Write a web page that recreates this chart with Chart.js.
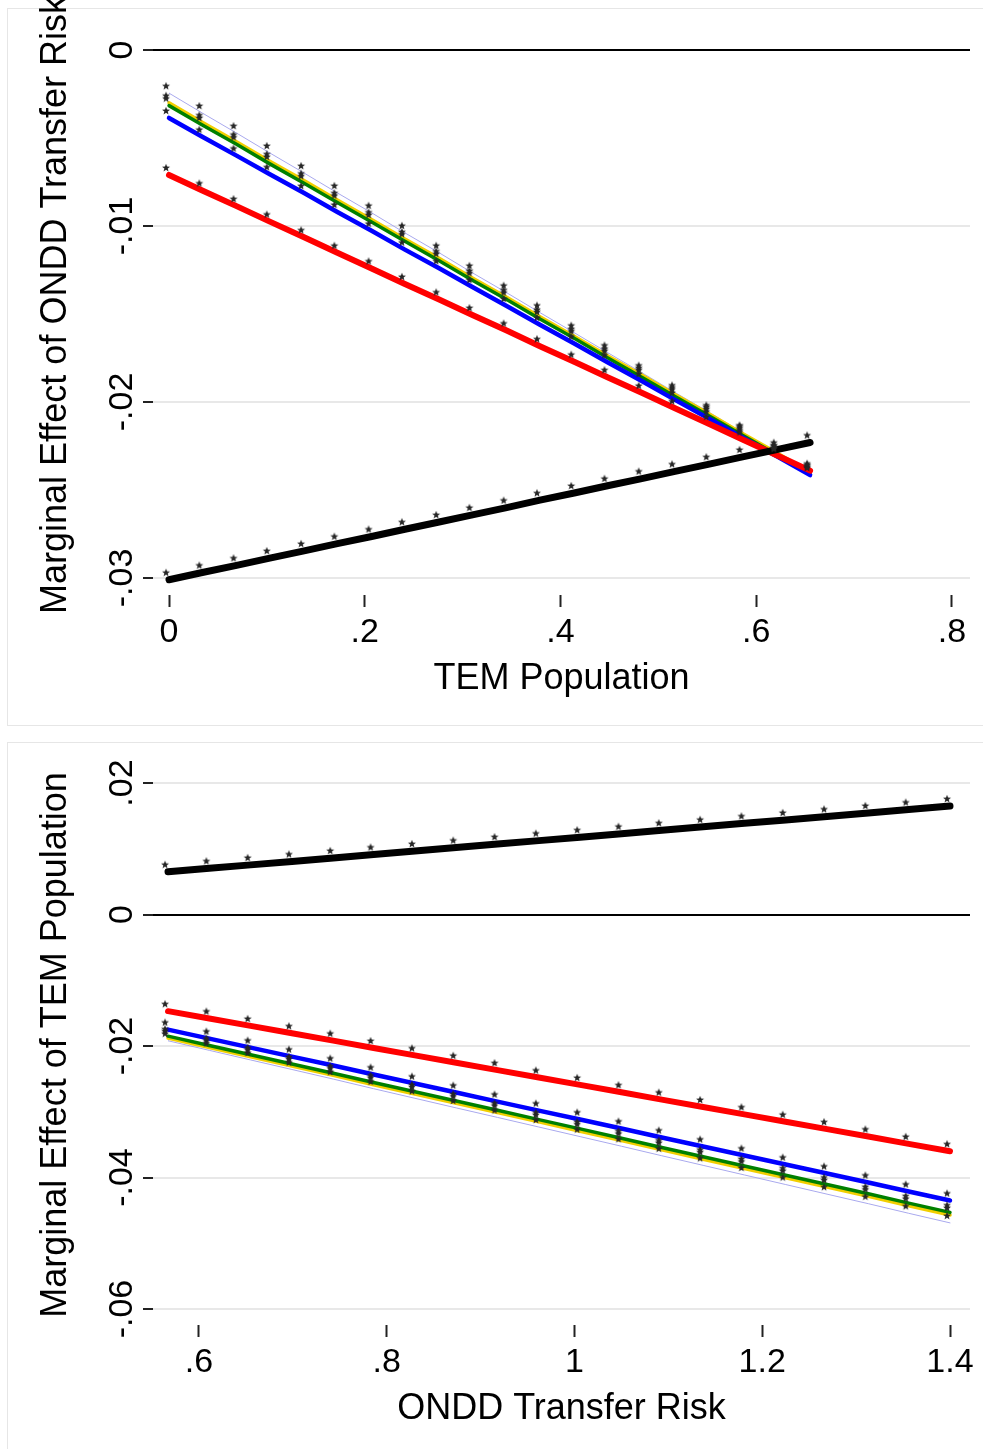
<!DOCTYPE html>
<html>
<head>
<meta charset="utf-8">
<script src="https://cdn.jsdelivr.net/npm/chart.js@4/dist/chart.umd.min.js"></script>
<style>
  html, body { margin: 0; padding: 0; background: #fff; }
  body { width: 983px; height: 1449px; position: relative; overflow: hidden; }
  .panel { position: absolute; border: 1px solid #e6e6e6; box-sizing: border-box; }
  canvas { position: absolute; left: 0; }
</style>
</head>
<body>
<div class="panel" style="left:7px; top:8px; width:990px; height:718px;"></div>
<div class="panel" style="left:7px; top:742px; width:990px; height:720px;"></div>
<canvas id="top-chart" width="983" height="725" style="top:0"></canvas>
<canvas id="bottom-chart" width="983" height="707" style="top:742px"></canvas>
<script>
// ---- top panel: effect of ONDD transfer risk over TEM population ----
const topX = [0, 0.034, 0.069, 0.103, 0.138, 0.172, 0.207, 0.241, 0.276, 0.310,
  0.345, 0.379, 0.414, 0.448, 0.483, 0.517, 0.552, 0.586, 0.621, 0.655];
const topBlack = [-0.03010, -0.02969, -0.02928, -0.02887, -0.02846, -0.02805, -0.02764, -0.02723, -0.02682, -0.02641,
  -0.02600, -0.02558, -0.02517, -0.02476, -0.02435, -0.02394, -0.02353, -0.02312, -0.02271, -0.02230];
const topRed = [-0.00710, -0.00798, -0.00887, -0.00975, -0.01064, -0.01152, -0.01241, -0.01329, -0.01417, -0.01506,
  -0.01594, -0.01683, -0.01771, -0.01859, -0.01948, -0.02036, -0.02125, -0.02213, -0.02302, -0.02390];
const topBlue = [-0.00386, -0.00493, -0.00600, -0.00706, -0.00813, -0.00920, -0.01027, -0.01134, -0.01240, -0.01347,
  -0.01454, -0.01561, -0.01668, -0.01774, -0.01881, -0.01988, -0.02095, -0.02202, -0.02308, -0.02415];
const topGreen = [-0.00316, -0.00426, -0.00536, -0.00647, -0.00757, -0.00867, -0.00977, -0.01087, -0.01198, -0.01308,
  -0.01418, -0.01528, -0.01638, -0.01749, -0.01859, -0.01969, -0.02079, -0.02189, -0.02300, -0.02410];
const topYellow = [-0.00300, -0.00411, -0.00521, -0.00632, -0.00742, -0.00853, -0.00963, -0.01074, -0.01184, -0.01295,
  -0.01405, -0.01516, -0.01626, -0.01737, -0.01847, -0.01958, -0.02068, -0.02179, -0.02289, -0.02400];
const topLavender = [-0.00245, -0.00358, -0.00472, -0.00585, -0.00699, -0.00812, -0.00925, -0.01039, -0.01152, -0.01266,
  -0.01379, -0.01492, -0.01606, -0.01719, -0.01833, -0.01946, -0.02059, -0.02173, -0.02286, -0.02400];
const topYTicks = [0, -0.01, -0.02, -0.03];
const topYLabels = ['0', '-.01', '-.02', '-.03'];
const topXTicks = [0, 0.2, 0.4, 0.6, 0.8];
const topXLabels = ['0', '.2', '.4', '.6', '.8'];

// ---- bottom panel: effect of TEM population over ONDD transfer risk ----
const botX = [0.567, 0.611, 0.655, 0.699, 0.743, 0.786, 0.830, 0.874, 0.918, 0.962,
  1.006, 1.050, 1.093, 1.137, 1.181, 1.225, 1.269, 1.313, 1.356, 1.400];
const botBlack = [0.00650, 0.00703, 0.00755, 0.00808, 0.00861, 0.00913, 0.00966, 0.01018, 0.01071, 0.01124,
  0.01176, 0.01229, 0.01282, 0.01334, 0.01387, 0.01439, 0.01492, 0.01545, 0.01597, 0.01650];
const botRed = [-0.01470, -0.01582, -0.01694, -0.01806, -0.01918, -0.02031, -0.02143, -0.02255, -0.02367, -0.02479,
  -0.02591, -0.02703, -0.02815, -0.02927, -0.03039, -0.03152, -0.03264, -0.03376, -0.03488, -0.03600];
const botBlue = [-0.01750, -0.01887, -0.02024, -0.02161, -0.02297, -0.02434, -0.02571, -0.02708, -0.02845, -0.02982,
  -0.03118, -0.03255, -0.03392, -0.03529, -0.03666, -0.03803, -0.03939, -0.04076, -0.04213, -0.04350];
const botGreen = [-0.01850, -0.01991, -0.02132, -0.02273, -0.02414, -0.02555, -0.02696, -0.02837, -0.02978, -0.03119,
  -0.03260, -0.03402, -0.03543, -0.03684, -0.03825, -0.03966, -0.04107, -0.04248, -0.04389, -0.04530];
const botYellow = [-0.01880, -0.02022, -0.02163, -0.02305, -0.02446, -0.02588, -0.02730, -0.02871, -0.03013, -0.03154,
  -0.03296, -0.03438, -0.03579, -0.03721, -0.03862, -0.04004, -0.04146, -0.04287, -0.04429, -0.04570];
const botLavender = [-0.01920, -0.02066, -0.02212, -0.02357, -0.02503, -0.02649, -0.02795, -0.02941, -0.03086, -0.03232,
  -0.03378, -0.03524, -0.03669, -0.03815, -0.03961, -0.04107, -0.04253, -0.04398, -0.04544, -0.04690];
const botYTicks = [0.02, 0, -0.02, -0.04, -0.06];
const botYLabels = ['.02', '0', '-.02', '-.04', '-.06'];
const botXTicks = [0.6, 0.8, 1, 1.2, 1.4];
const botXLabels = ['.6', '.8', '1', '1.2', '1.4'];

const FONT = '"Liberation Sans", Arial, Helvetica, sans-serif';

// line look, drawn bottom to top: lavender, yellow, green, blue, red, black
const styles = {
  black:    { color: '#000000', width: 7,   order: 1 },
  red:      { color: '#ff0000', width: 6,   order: 2 },
  blue:     { color: '#0000ff', width: 4.5, order: 3 },
  green:    { color: '#008000', width: 3.5, order: 4 },
  yellow:   { color: '#f2cf00', width: 3.5, order: 5 },
  lavender: { color: '#a9a9ee', width: 1,   order: 6 }
};

// small star sprite, drawn up and left of its point like the Stata marker label
function makeStar() {
  const c = document.createElement('canvas');
  c.width = 26; c.height = 26;
  const g = c.getContext('2d');
  const cx = 13 - 3, cy = 13 - 7, ro = 4.2, ri = 1.8;
  g.beginPath();
  for (let i = 0; i < 10; i++) {
    const r = i % 2 ? ri : ro;
    const a = -Math.PI / 2 + i * Math.PI / 5;
    g.lineTo(cx + r * Math.cos(a), cy + r * Math.sin(a));
  }
  g.closePath();
  g.fillStyle = '#262626';
  g.fill();
  return c;
}
const star = makeStar();

function textPlugin(t) {
  return {
    id: 'stataText',
    afterDraw(chart) {
      const { ctx, chartArea, scales } = chart;
      ctx.save();
      ctx.fillStyle = '#000';
      ctx.textBaseline = 'alphabetic';
      ctx.textAlign = 'center';
      ctx.font = '34px ' + FONT;
      t.yTicks.forEach((v, i) => {
        ctx.save();
        ctx.translate(132, scales.y.getPixelForValue(v));
        ctx.rotate(-Math.PI / 2);
        ctx.fillText(t.yLabels[i], 0, 0);
        ctx.restore();
      });
      t.xTicks.forEach((v, i) => {
        ctx.fillText(t.xLabels[i], scales.x.getPixelForValue(v), chartArea.bottom + 47);
      });
      ctx.font = '36px ' + FONT;
      ctx.fillText(t.xTitle, (chartArea.left + chartArea.right) / 2, chartArea.bottom + 94);
      ctx.save();
      ctx.translate(66, (chartArea.top + chartArea.bottom) / 2);
      ctx.rotate(-Math.PI / 2);
      ctx.fillText(t.yTitle, 0, 0);
      ctx.restore();
      ctx.restore();
    }
  };
}

function makeChart(id, p) {
  const lines = [], stars = [];
  Object.keys(p.series).forEach(name => {
    const pts = p.x.map((x, i) => ({ x: x, y: p.series[name][i] }));
    const s = styles[name];
    lines.push({
      data: pts, borderColor: s.color, borderWidth: s.width, order: s.order,
      pointRadius: 0, tension: 0, borderCapStyle: 'round', borderJoinStyle: 'round', fill: false
    });
    stars.push({
      data: pts, showLine: false, pointStyle: star, pointRadius: 4, order: 0
    });
  });
  const canvas = document.getElementById(id);
  return new Chart(canvas.getContext('2d'), {
    type: 'line',
    data: { datasets: lines.concat(stars) },
    options: {
      responsive: false,
      animation: false,
      devicePixelRatio: 1,
      layout: { padding: { top: p.top, right: 13, left: 0, bottom: 0 } },
      plugins: { legend: { display: false }, tooltip: { enabled: false } },
      scales: {
        x: {
          type: 'linear', min: p.xMin, max: p.xMax,
          afterBuildTicks: sc => { sc.ticks = p.xTicks.map(v => ({ value: v })); },
          afterFit: sc => { sc.height = canvas.height - p.bottom; },
          ticks: { display: false },
          border: { display: false },
          grid: { drawOnChartArea: false, drawTicks: true, tickLength: 12, tickColor: '#222', tickWidth: 2 }
        },
        y: {
          type: 'linear', min: p.yMin, max: p.yMax,
          afterBuildTicks: sc => { sc.ticks = p.yTicks.map(v => ({ value: v })); },
          afterFit: sc => { sc.width = 153; },
          ticks: { display: false },
          border: { display: false },
          grid: {
            color: c => (c.tick && c.tick.value === 0 ? '#000' : '#e8e8e8'),
            lineWidth: 2,
            drawTicks: true, tickLength: 10, tickColor: '#222', tickWidth: 2
          }
        }
      }
    },
    plugins: [textPlugin(p)]
  });
}

makeChart('top-chart', {
  x: topX,
  series: { black: topBlack, red: topRed, blue: topBlue, green: topGreen, yellow: topYellow, lavender: topLavender },
  xMin: -0.01635, xMax: 0.8184, yMin: -0.030966, yMax: 0.001989,
  top: 15, bottom: 595,
  xTicks: topXTicks, xLabels: topXLabels, yTicks: topYTicks, yLabels: topYLabels,
  xTitle: 'TEM Population', yTitle: 'Marginal Effect of ONDD Transfer Risk'
});

makeChart('bottom-chart', {
  x: botX,
  series: { black: botBlack, red: botRed, blue: botBlue, green: botGreen, yellow: botYellow, lavender: botLavender },
  xMin: 0.551, xMax: 1.4213, yMin: -0.06243, yMax: 0.02274,
  top: 23, bottom: 583,
  xTicks: botXTicks, xLabels: botXLabels, yTicks: botYTicks, yLabels: botYLabels,
  xTitle: 'ONDD Transfer Risk', yTitle: 'Marginal Effect of TEM Population'
});
</script>
</body>
</html>
